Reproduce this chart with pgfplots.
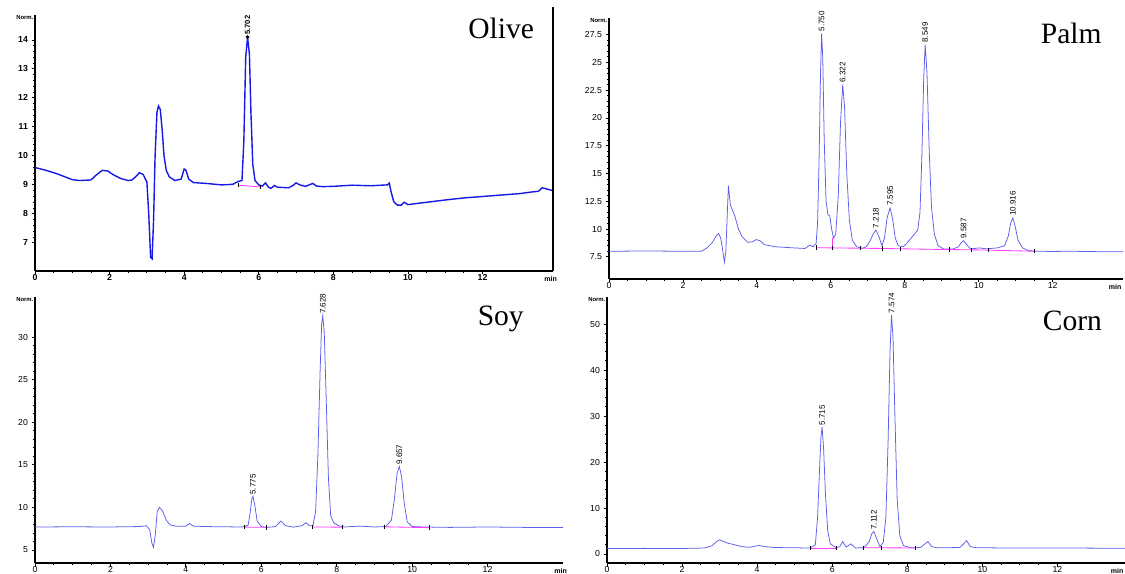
\documentclass[border=0pt]{standalone}
\usepackage{fontspec}
\setmainfont{Liberation Serif}
\newfontfamily\sans{Liberation Sans}
\usepackage{pgfplots}
\pgfplotsset{compat=1.18}

\def\px{0.25mm}
\definecolor{olivetrace}{RGB}{25,25,230}
\definecolor{trc}{RGB}{95,95,235}
\definecolor{base}{RGB}{255,60,255}

\tikzset{
  peaklab/.style={rotate=90, anchor=west, inner sep=0.5pt, font=\sans\fontsize{5.7}{6}\selectfont},
  normlab/.style={anchor=east, inner sep=1pt, font=\sans\bfseries\fontsize{4.2}{5}\selectfont},
  minlab/.style={anchor=north east, inner sep=1pt, yshift=-2.5pt, xshift=4pt, font=\sans\bfseries\fontsize{5}{6}\selectfont},
  panel/.style={anchor=base, font=\fontsize{21}{24}\selectfont},
}
\pgfplotsset{
  chrom/.style={
    scale only axis, clip=false,
    axis x line*=bottom, axis y line*=left,
    tick align=outside,
    major tick length=3.5*\px, minor tick length=2*\px,
    xmin=0, xtick={0,2,...,12}, minor x tick num=3,
    minor y tick num=4,
    every tick/.style={black, line width=0.6pt},
    axis line style={black, line width=0.8pt, -},
    tick label style={font=\sans\fontsize{6.2}{7}\selectfont},
    /pgf/number format/assume math mode=true,
    xticklabel style={yshift=1.5pt, inner sep=1pt},
    yticklabel style={xshift=1pt},
  },
  trace/.style={color=trc, line width=0.55pt, mark=none},
  blseg/.style={color=base, line width=0.6pt, mark=|, mark size=1.6pt, mark options={black, line width=0.4pt}},
}

\begin{document}
\begin{tikzpicture}

% ---------------- Olive ----------------
\begin{axis}[chrom, at={(35*\px,-271*\px)}, anchor=south west,
  width=518*\px, height=256*\px,
  xmax=13.89, ymin=6.03, ymax=14.86, ytick={7,8,...,14},
  axis line style={black, line width=1.1pt},
  tick label style={font=\sans\bfseries\fontsize{6.2}{7}\selectfont}]
\addplot[color=olivetrace, line width=1.0pt] coordinates {
(0,9.6) (0.3,9.5) (0.6,9.38) (0.8,9.28) (1.0,9.18) (1.2,9.15) (1.5,9.17)
(1.65,9.35) (1.8,9.5) (1.95,9.48) (2.1,9.35) (2.3,9.22) (2.5,9.15) (2.6,9.17)
(2.7,9.28) (2.8,9.42) (2.9,9.36) (3.0,9.1) (3.05,8.0) (3.1,6.5) (3.14,6.45)
(3.18,7.8) (3.22,10.0) (3.27,11.5) (3.31,11.72) (3.36,11.6) (3.41,10.9)
(3.46,10.0) (3.52,9.5) (3.6,9.28) (3.75,9.15) (3.92,9.2) (4.0,9.55) (4.05,9.5)
(4.12,9.2) (4.25,9.08) (4.6,9.05) (5.0,9.0) (5.3,9.02) (5.45,9.12) (5.55,9.15)
(5.6,10.5) (5.65,13.4) (5.7,14.1) (5.75,13.5) (5.79,11.5) (5.84,9.7) (5.9,9.15)
(6.0,9.0) (6.1,8.96) (6.18,9.07) (6.26,8.92) (6.33,8.88) (6.42,8.98) (6.5,8.92)
(6.8,8.9) (6.92,8.98) (7.0,9.07) (7.1,9.0) (7.25,8.95) (7.45,9.05) (7.55,8.96)
(7.7,8.94) (8.0,8.95) (8.5,8.99) (9.0,8.97) (9.45,9.0) (9.5,9.06) (9.55,8.75)
(9.62,8.42) (9.72,8.3) (9.82,8.3) (9.9,8.4) (10.0,8.32) (10.5,8.4) (11.0,8.48)
(11.5,8.55) (12.0,8.6) (12.5,8.65) (13.0,8.7) (13.35,8.76) (13.5,8.78)
(13.6,8.9) (13.75,8.85) (13.89,8.8)
};
\addplot[blseg] coordinates {(5.45,8.99) (6.05,8.93)};
\addplot[only marks, mark=*, mark size=1.1pt, black] coordinates {(5.7,14.1)};
\node[peaklab, font=\sans\bfseries\fontsize{5.4}{6}\selectfont] at (axis cs:5.70,14.15) {5.702};
\draw[black, line width=1.1pt] (rel axis cs:1,0) -- (rel axis cs:1,1.03);
\node[normlab] at (rel axis cs:0,0.99) {Norm.};
\node[minlab] at (rel axis cs:1,0) {min};
\node[panel] at (axis cs:12.5,14.05) {Olive};
\end{axis}

% ---------------- Palm ----------------
\begin{axis}[chrom, at={(609*\px,-279*\px)}, anchor=south west,
  width=514*\px, height=261*\px,
  xmax=13.9, ymin=5.5, ymax=29.0, ytick={7.5,10,...,27.5},
  yticklabel style={/pgf/number format/fixed}]
\addplot[trace] coordinates {
(0,8.0) (1.0,8.02) (2.0,8.0) (2.5,8.0) (2.65,8.3) (2.8,8.8) (2.9,9.4) (2.96,9.6)
(3.02,9.2) (3.07,8.2) (3.12,7.0) (3.16,8.0) (3.2,11.5) (3.23,13.9) (3.28,12.2)
(3.35,11.6) (3.4,11.2) (3.5,10.0) (3.6,9.3) (3.75,8.8) (3.88,8.85) (3.98,9.05)
(4.08,8.95) (4.2,8.6) (4.5,8.4) (5.0,8.3) (5.3,8.25) (5.43,8.55) (5.52,8.4)
(5.6,8.7) (5.64,10.5) (5.68,16.0) (5.72,24.0) (5.75,27.6) (5.78,25.5) (5.82,18.0)
(5.87,12.5) (5.92,11.3) (5.97,11.2) (6.02,10.0) (6.07,9.2) (6.13,9.5) (6.2,13.0)
(6.26,19.5) (6.32,23.0) (6.37,21.0) (6.43,15.0) (6.5,10.8) (6.58,9.0) (6.7,8.4)
(6.85,8.25) (6.97,8.45) (7.07,9.0) (7.15,9.6) (7.22,9.9) (7.3,9.3) (7.38,8.5)
(7.45,9.2) (7.52,11.0) (7.6,11.9) (7.67,10.9) (7.74,9.2) (7.82,8.5) (7.95,8.4)
(8.05,8.7) (8.15,9.1) (8.25,9.5) (8.35,9.9) (8.41,11.5) (8.46,16.5) (8.51,23.5)
(8.55,26.6) (8.6,24.0) (8.66,17.0) (8.72,12.0) (8.8,9.5) (8.9,8.5) (9.05,8.2)
(9.3,8.2) (9.45,8.4) (9.52,8.75) (9.59,8.95) (9.67,8.6) (9.78,8.2) (10.0,8.3)
(10.2,8.22) (10.5,8.3) (10.7,8.5) (10.8,9.4) (10.86,10.5) (10.92,11.0)
(10.98,10.3) (11.06,9.0) (11.18,8.3) (11.35,8.05) (11.6,8.0) (12.0,7.98)
(12.5,8.0) (13.0,7.97) (13.5,7.95) (13.9,7.95)
};
\addplot[blseg] coordinates {(5.6,8.32) (6.05,8.3) (6.8,8.27) (7.4,8.25) (7.88,8.22) (9.2,8.15) (9.8,8.13) (10.25,8.1) (11.5,8.0)};
\addplot[color=base, line width=0.6pt] coordinates {(6.05,8.3) (6.05,9.2)};
\node[peaklab] at (axis cs:5.75,27.7) {5.750};
\node[peaklab] at (axis cs:6.32,23.1) {6.322};
\node[peaklab] at (axis cs:7.22,10.0) {7.218};
\node[peaklab] at (axis cs:7.60,12.0) {7.595};
\node[peaklab] at (axis cs:8.55,26.7) {8.549};
\node[peaklab] at (axis cs:9.59,9.05) {9.587};
\node[peaklab] at (axis cs:10.92,11.1) {10.916};
\node[normlab] at (rel axis cs:0,0.99) {Norm.};
\node[minlab, xshift=-4pt] at (rel axis cs:1,0) {min};
\node[panel] at (axis cs:12.5,26.7) {Palm};
\end{axis}

% ---------------- Soy ----------------
\begin{axis}[chrom, at={(35*\px,-563*\px)}, anchor=south west,
  width=528*\px, height=266*\px,
  xmax=14.0, ymin=3.47, ymax=34.7, ytick={5,10,...,30}]
\addplot[trace] coordinates {
(0,7.7) (1.0,7.72) (2.0,7.7) (2.8,7.75) (2.95,7.85) (3.04,7.4) (3.1,5.8)
(3.14,5.3) (3.19,6.8) (3.24,9.5) (3.3,10.0) (3.38,9.6) (3.48,8.5) (3.58,7.95)
(3.75,7.78) (4.0,7.8) (4.1,8.1) (4.2,7.8) (4.5,7.75) (5.0,7.72) (5.5,7.7)
(5.65,7.9) (5.7,9.2) (5.75,11.0) (5.78,11.3) (5.83,10.2) (5.89,8.4) (6.0,7.75)
(6.15,7.65) (6.38,7.75) (6.52,8.4) (6.64,7.85) (6.85,7.68) (7.08,7.85) (7.18,8.2)
(7.28,7.85) (7.37,7.85) (7.44,9.5) (7.5,16.0) (7.56,26.0) (7.6,31.5) (7.63,32.5)
(7.67,30.5) (7.72,23.0) (7.78,13.5) (7.84,9.0) (7.92,8.2) (8.05,7.85) (8.2,7.7)
(8.6,7.8) (9.0,7.7) (9.3,7.75) (9.45,8.5) (9.53,11.0) (9.6,14.0) (9.66,14.8)
(9.72,13.6) (9.79,10.5) (9.87,8.3) (10.0,7.75) (10.3,7.7) (11.0,7.65)
(12.0,7.7) (13.0,7.65) (14.0,7.65)
};
\addplot[blseg] coordinates {(5.55,7.68) (6.12,7.66)};
\addplot[blseg] coordinates {(7.35,7.7) (8.15,7.68)};
\addplot[blseg] coordinates {(9.27,7.72) (10.45,7.62)};
\node[peaklab] at (axis cs:5.78,11.4) {5.775};
\node[peaklab] at (axis cs:7.63,32.6) {7.628};
\node[peaklab] at (axis cs:9.66,14.9) {9.657};
\node[normlab] at (rel axis cs:0,0.99) {Norm.};
\node[minlab] at (rel axis cs:1,0) {min};
\node[panel] at (axis cs:12.35,31.4) {Soy};
\end{axis}

% ---------------- Corn ----------------
\begin{axis}[chrom, at={(607*\px,-563*\px)}, anchor=south west,
  width=518*\px, height=266*\px,
  xmax=13.8, ymin=-1.96, ymax=55.9, ytick={0,10,...,50}]
\addplot[trace] coordinates {
(0,1.2) (1.0,1.22) (2.0,1.2) (2.6,1.3) (2.8,1.8) (2.92,2.7) (3.0,3.1) (3.08,2.8)
(3.2,2.4) (3.4,2.0) (3.6,1.6) (3.8,1.45) (3.95,1.7) (4.05,1.85) (4.2,1.6)
(4.5,1.4) (5.0,1.35) (5.4,1.3) (5.55,2.0) (5.61,8.0) (5.66,18.0) (5.7,25.5)
(5.73,27.6) (5.77,23.0) (5.82,13.0) (5.88,5.0) (5.95,2.2) (6.1,1.4) (6.2,1.6)
(6.28,2.7) (6.37,1.5) (6.5,2.2) (6.62,1.3) (6.85,1.4) (6.98,2.6) (7.06,4.5)
(7.11,4.9) (7.18,3.4) (7.27,1.6) (7.36,2.5) (7.43,8.0) (7.49,25.0) (7.54,44.0)
(7.58,52.0) (7.62,47.0) (7.67,30.0) (7.73,12.0) (7.8,4.0) (7.9,1.8) (8.1,1.35)
(8.35,1.4) (8.47,2.2) (8.55,2.7) (8.65,1.6) (8.8,1.35) (9.4,1.4) (9.5,2.2)
(9.58,2.9) (9.68,1.6) (9.85,1.35) (11.0,1.3) (12.0,1.3) (13.8,1.25)
};
\addplot[blseg] coordinates {(5.42,1.3) (6.1,1.3)};
\addplot[blseg] coordinates {(6.82,1.35) (7.3,1.35) (8.22,1.3)};
\node[peaklab] at (axis cs:5.73,27.8) {5.715};
\node[peaklab] at (axis cs:7.11,5.1) {7.112};
\node[peaklab] at (axis cs:7.58,52.2) {7.574};
\node[normlab] at (rel axis cs:0,0.99) {Norm.};
\node[minlab, xshift=-4pt] at (rel axis cs:1,0) {min};
\node[panel] at (axis cs:12.4,48.7) {Corn};
\end{axis}

\pgfresetboundingbox
\path[use as bounding box] (0,0) rectangle ({1125*\px},{-574*\px});
\end{tikzpicture}
\end{document}
